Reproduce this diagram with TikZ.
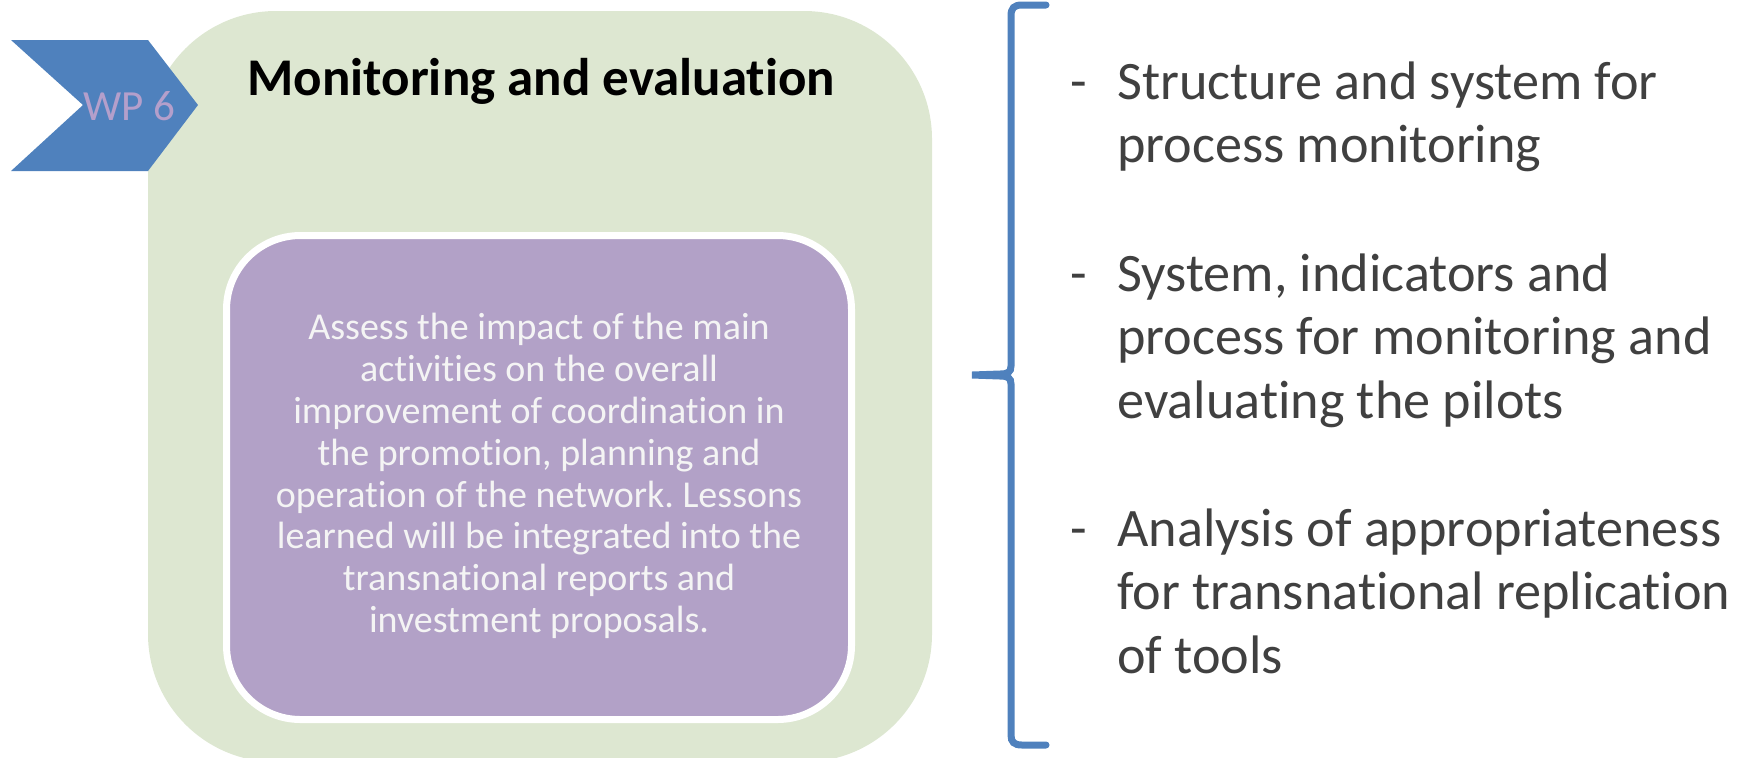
\documentclass[tikz,border=0pt]{standalone}
\usepackage{fontspec}
\setmainfont{Carlito}[Ligatures=NoCommon]
\frenchspacing
\definecolor{wpblue}{HTML}{4F81BD}
\definecolor{greenbg}{HTML}{DDE7D1}
\definecolor{purplebox}{HTML}{B2A1C7}
\definecolor{wptext}{HTML}{B49FCB}
\definecolor{graytext}{HTML}{404040}
\definecolor{lighttext}{HTML}{F4F4F4}
\tikzset{
  itemdash/.style={anchor=base west, inner sep=0pt, text=graytext, font=\fontsize{27.1}{31.9}\selectfont},
  itemtext/.style={anchor=base west, inner sep=0pt, text=graytext, font=\fontsize{27.1}{31.9}\selectfont},
}
\begin{document}
\begin{tikzpicture}[x=0.5pt,y=-0.5pt]
\useasboundingbox (0,0) rectangle (1743,757);
\clip (0,0) rectangle (1743,757);
% green panel
\fill[greenbg, rounded corners=64pt] (148,11) rectangle (932,762);
% purple box
\draw[fill=purplebox, draw=white, line width=3.5pt, rounded corners=37pt] (226.5,235.5) rectangle (851.5,719.5);
\node[inner sep=0pt, align=center, text=lighttext, font=\fontsize{19}{20.9}\selectfont] (desc) at (539,476)
 {Assess the impact of the main\\activities on the overall\\improvement of coordination in\\the promotion, planning and\\operation of the network. Lessons\\learned will be integrated into the\\transnational reports and\\investment proposals.};
% chevron
\fill[wpblue] (11,40) -- (148,40) -- (198,105) -- (148,171) -- (11,171) -- (83,105) -- cycle;
\node[inner sep=0pt, text=wptext, font=\fontsize{21.5}{24}\selectfont] (wp) at (129,106) {WP 6};
% title
\node[anchor=base west, inner sep=0pt, font=\bfseries\fontsize{26.5}{30}\selectfont] (title) at (247,95) {Monitoring and evaluation};
% bracket
\draw[wpblue, line width=3.5pt, line cap=round] (1046,5) -- (1022,5) .. controls (1014,5) and (1011,8) .. (1011,16) -- (1011,366)
  .. controls (1011,372) and (1008,374) .. (1000,374) -- (972,375) -- (1000,376)
  .. controls (1008,376) and (1011,378) .. (1011,384)
  -- (1011,735) .. controls (1011,742) and (1014,745) .. (1022,745) -- (1046,745);
% items
\node[itemdash] (d1) at (1070,99) {-};
\node[itemtext] (t1) at (1117,99) {\vtop{\hbox{Structure and system for}\hbox{process monitoring}}};
\node[itemdash] (d2) at (1070,291) {-};
\node[itemtext] (t2) at (1117,291) {\vtop{\hbox{System, indicators and}\hbox{process for monitoring and}\hbox{evaluating the pilots}}};
\node[itemdash] (d3) at (1070,546) {-};
\node[itemtext] (t3) at (1117,546) {\vtop{\hbox{Analysis of appropriateness}\hbox{for transnational replication}\hbox{of tools}}};
\end{tikzpicture}
\end{document}
